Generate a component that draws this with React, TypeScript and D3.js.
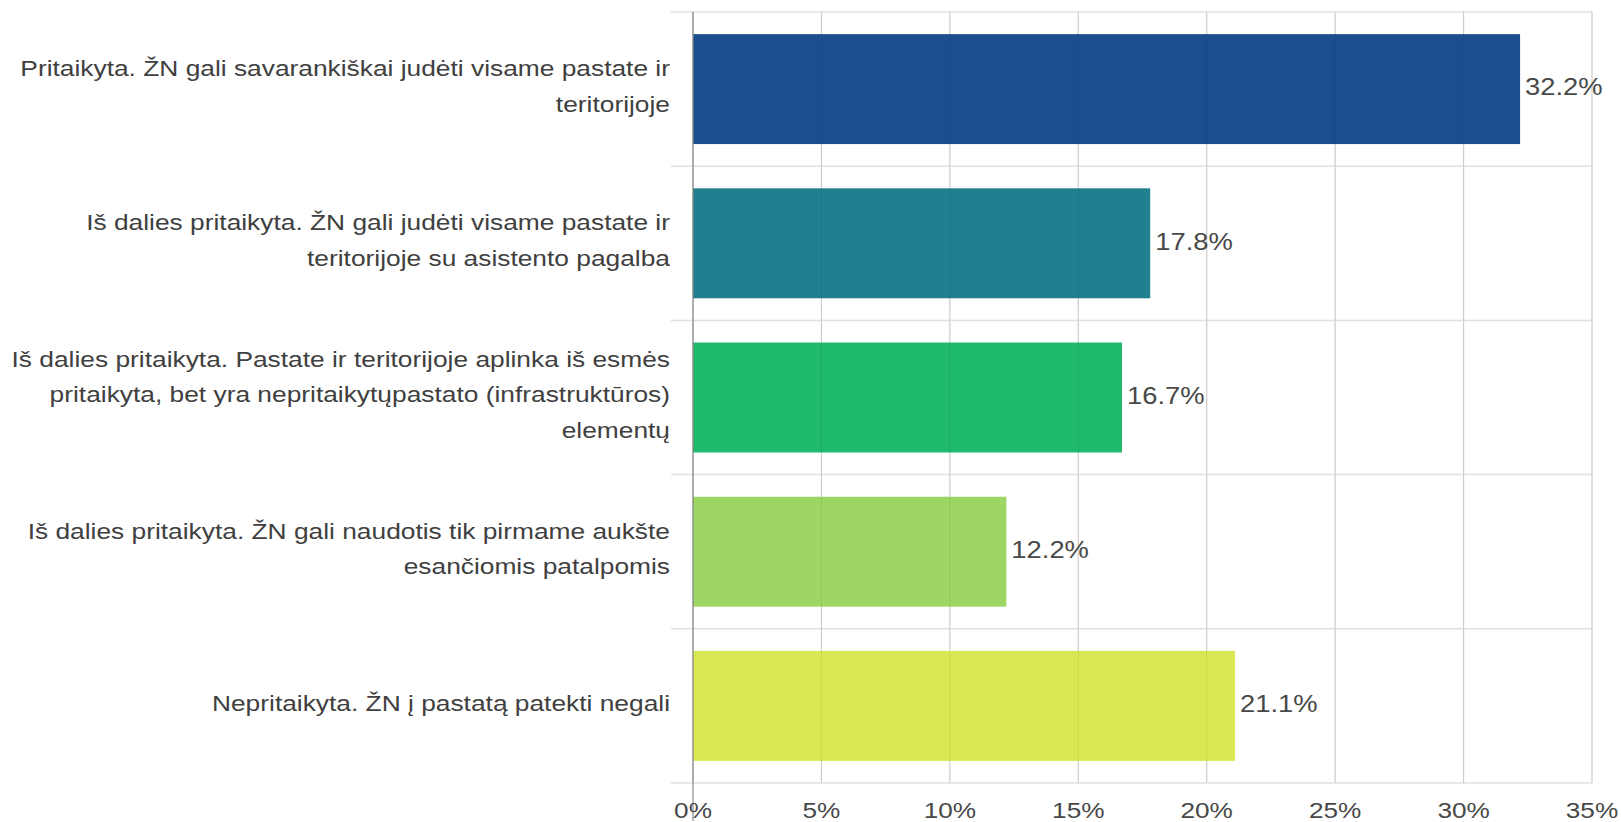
import React from "react";
import * as d3 from "d3";

const categories: string[][] = [
  ["Pritaikyta. ŽN gali savarankiškai judėti visame pastate ir", "teritorijoje"],
  ["Iš dalies pritaikyta. ŽN gali judėti visame pastate ir", "teritorijoje su asistento pagalba"],
  ["Iš dalies pritaikyta. Pastate ir teritorijoje aplinka iš esmės", "pritaikyta, bet yra nepritaikytųpastato (infrastruktūros)", "elementų"],
  ["Iš dalies pritaikyta. ŽN gali naudotis tik pirmame aukšte", "esančiomis patalpomis"],
  ["Nepritaikyta. ŽN į pastatą patekti negali"],
];
const values: number[] = [32.2, 17.8, 16.7, 12.2, 21.1];
const colors: string[] = ["#1a4f8e", "#21808f", "#1fba6c", "#9dd662", "#d9e852"];
const ticks: number[] = [0, 5, 10, 15, 20, 25, 30, 35];

const W = 1621;
const H = 822;
const left = 693;
const right = 1592;
const top = 12;
const bottom = 783;
const SX = 1.19;
const SXL = 1.225;

export default function App() {
  const x = d3.scaleLinear().domain([0, 35]).range([left, right]);
  const idx = categories.map((_, i) => String(i));
  const y = d3.scaleBand().domain(idx).range([top, bottom]).paddingInner(0.287).paddingOuter(0.1435);
  const step = y.step();
  const font = "'Liberation Sans', Arial, sans-serif";
  const lineH = 35.7;
  return (
    <svg width={W} height={H} style={{ position: "absolute", left: 0, top: 0, background: "#fff" }} fontFamily={font}>
      {/* vertical grid */}
      {ticks.map((t) => (
        <line key={"g" + t} x1={x(t)} x2={x(t)} y1={top} y2={bottom} stroke="#d9d9d9" strokeWidth={1.2} />
      ))}
      {/* horizontal band separators */}
      {d3.range(categories.length + 1).map((i) => (
        <line key={"s" + i} x1={671} x2={right} y1={top + i * step} y2={top + i * step} stroke="#e0e0e0" strokeWidth={1.5} />
      ))}
      {/* bars */}
      {values.map((v, i) => (
        <rect key={"b" + i} x={x(0)} y={y(String(i))!} width={x(v) - x(0)} height={y.bandwidth()} fill={colors[i]} />
      ))}
      {/* faint grid over bars */}
      {ticks.map((t) => (
        <line key={"go" + t} x1={x(t)} x2={x(t)} y1={top} y2={bottom} stroke="#000" strokeOpacity={0.06} strokeWidth={1.2} />
      ))}
      {/* zero axis */}
      <line x1={x(0)} x2={x(0)} y1={top} y2={bottom + 38} stroke="#8a8a8a" strokeWidth={1.2} />
      {/* value labels */}
      {values.map((v, i) => (
        <g key={"v" + i} transform={`translate(${x(v) + 5},${y(String(i))! + y.bandwidth() / 2 - 2}) scale(${SX},1)`}>
          <text dy="0.36em" fontSize={23} fill="#484848">
            {v.toFixed(1)}%
          </text>
        </g>
      ))}
      {/* category labels */}
      {categories.map((lines, i) => {
        const cy = y(String(i))! + y.bandwidth() / 2 - 3;
        const start = cy - ((lines.length - 1) * lineH) / 2;
        return (
          <g key={"c" + i} transform={`translate(670,0) scale(${SXL},1)`}>
            <text textAnchor="end" fontSize={21.5} fill="#404040">
              {lines.map((l, j) => (
                <tspan key={j} x={0} y={start + j * lineH} dy="0.36em">{l}</tspan>
              ))}
            </text>
          </g>
        );
      })}
      {/* tick labels */}
      {ticks.map((t) => (
        <g key={"t" + t} transform={`translate(${x(t)},818) scale(${SX},1)`}>
          <text textAnchor="middle" fontSize={22} fill="#484848">
            {t}%
          </text>
        </g>
      ))}
    </svg>
  );
}
